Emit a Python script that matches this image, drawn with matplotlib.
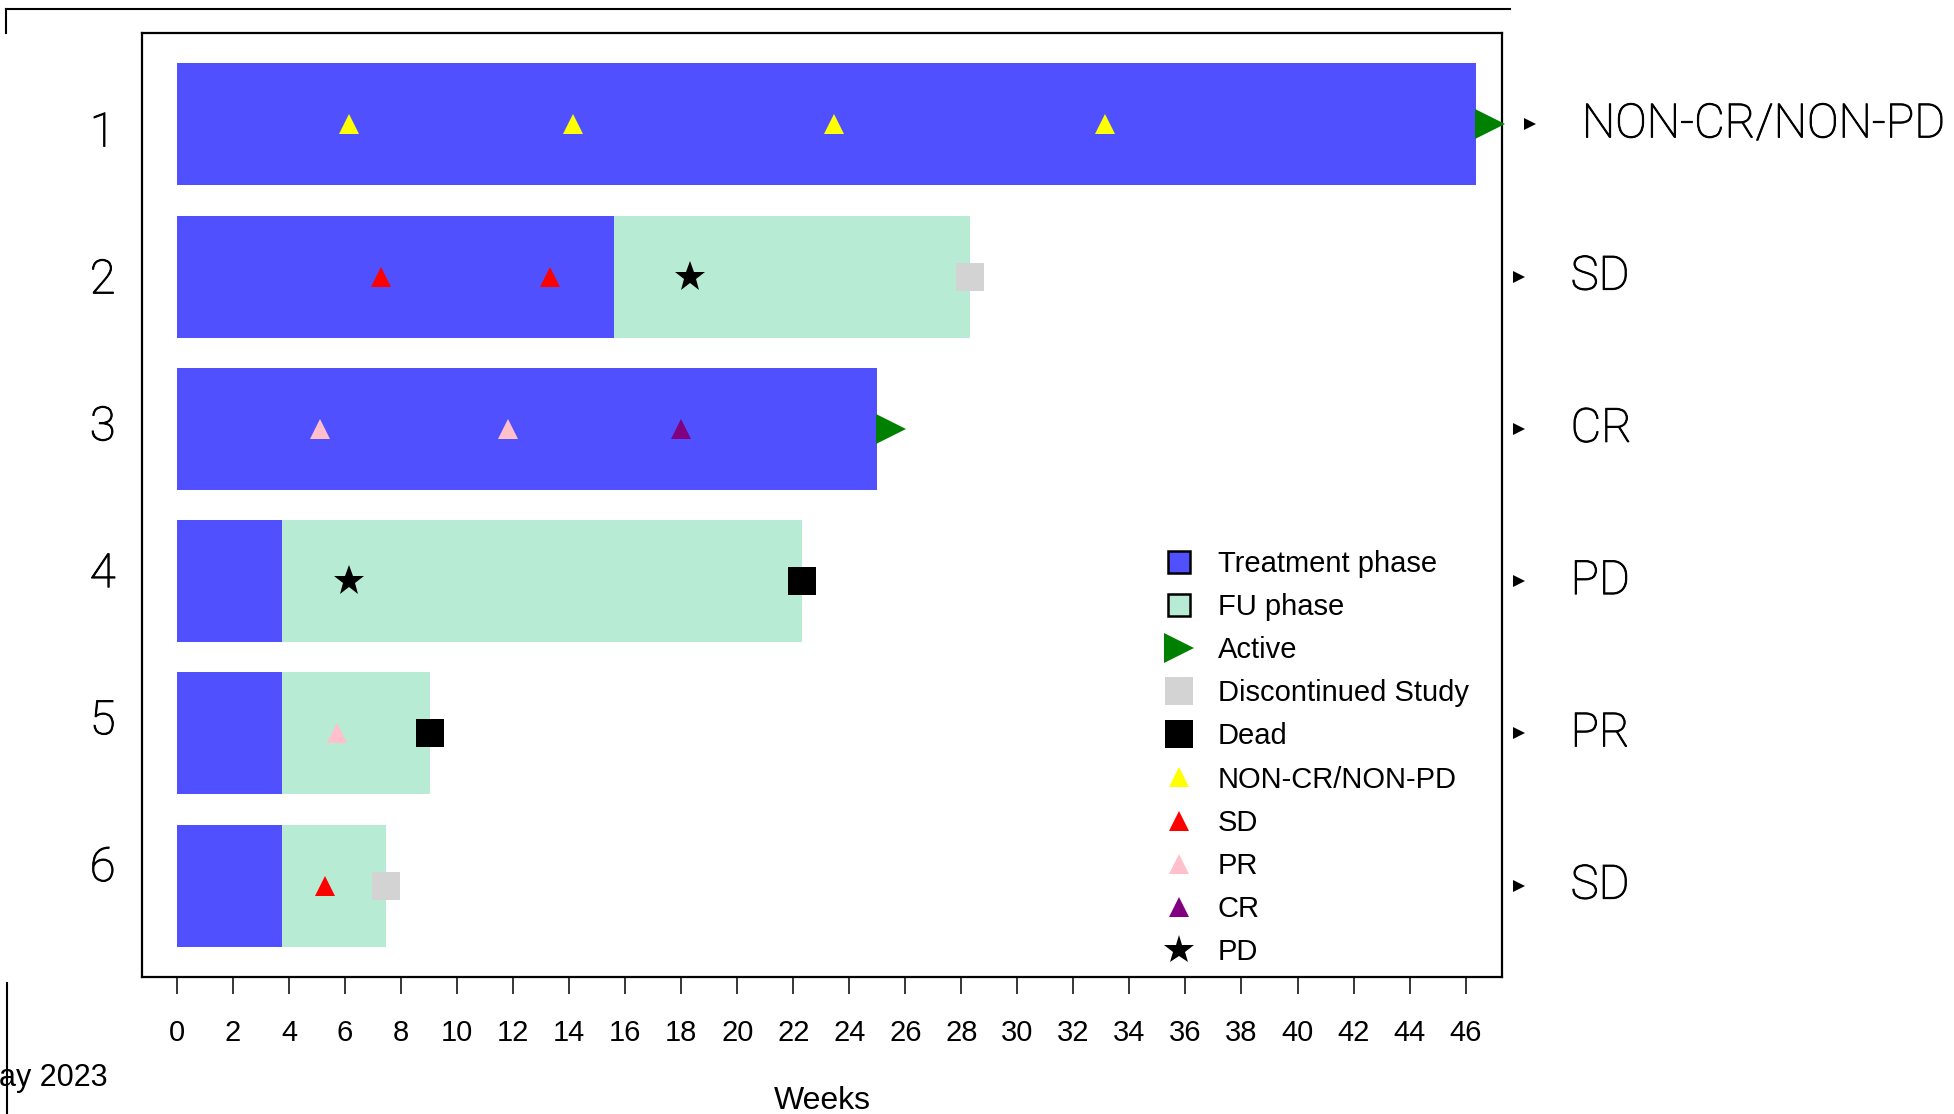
import matplotlib
matplotlib.use("Agg")
import matplotlib.pyplot as plt
import matplotlib.patheffects as pe
from matplotlib.lines import Line2D

# subject data (weeks)
subjects = [1, 2, 3, 4, 5, 6]
treat_end = [46.36, 15.6, 25.0, 3.75, 3.75, 3.75]
fu_end = [None, 28.3, None, 22.3, 9.04, 7.46]
status = ["Active", "Discontinued Study", "Active", "Dead", "Dead", "Discontinued Study"]
best_resp = ["NON-CR/NON-PD", "SD", "CR", "PD", "PR", "SD"]

# assessments: (subject, week, response)
assess_subj = [1, 1, 1, 1, 2, 2, 2, 3, 3, 3, 4, 5, 6]
assess_week = [6.14, 14.14, 23.46, 33.14, 7.29, 13.3, 18.3, 5.1, 11.8, 18.0, 6.14, 5.7, 5.29]
assess_resp = ["NON-CR/NON-PD", "NON-CR/NON-PD", "NON-CR/NON-PD", "NON-CR/NON-PD",
               "SD", "SD", "PD", "PR", "PR", "CR", "PD", "PR", "SD"]

xticks = list(range(0, 47, 2))

blue = "#5050FF"
fu_col = "#B8EBD4"
resp_style = {
    "NON-CR/NON-PD": dict(marker="^", color="yellow", ms=14),
    "SD": dict(marker="^", color="red", ms=14),
    "PR": dict(marker="^", color="pink", ms=14),
    "CR": dict(marker="^", color="purple", ms=14),
    "PD": dict(marker="*", color="black", ms=23),
}
end_style = {
    "Active": dict(marker=">", color="green", ms=21),
    "Discontinued Study": dict(marker="s", color="lightgray", ms=20),
    "Dead": dict(marker="s", color="black", ms=20),
}
# light font drawn a bit darker, like the original
dark = [pe.withStroke(linewidth=0.7, foreground="black")]

fig = plt.figure(figsize=(19.54, 11.14), dpi=100)
ax = fig.add_axes([142 / 1954, 1 - 977 / 1114, 1360 / 1954, 944 / 1114])

for i, s in enumerate(subjects):
    ax.barh(s, treat_end[i], left=0, height=0.8, color=blue, zorder=2)
    if fu_end[i] is not None:
        ax.barh(s, fu_end[i] - treat_end[i], left=treat_end[i], height=0.8, color=fu_col, zorder=2)
        end_x = fu_end[i]
    else:
        end_x = treat_end[i] + 0.5
    st = end_style[status[i]]
    ax.plot(end_x, s, linestyle="none", marker=st["marker"], color=st["color"],
            ms=st["ms"], mew=0, zorder=4, clip_on=False)
    # best response on the right
    ax.plot(48.3 if i == 0 else 47.9, s, linestyle="none", marker=">", color="black",
            ms=8, mew=0, clip_on=False)
    ax.text(50.15 if i == 0 else 49.75, s, best_resp[i], fontsize=34, family="Roboto",
            fontweight="light", color="black", va="center", ha="left", clip_on=False,
            path_effects=dark)

for s, w, r in zip(assess_subj, assess_week, assess_resp):
    st = resp_style[r]
    ax.plot(w, s, linestyle="none", marker=st["marker"], color=st["color"],
            ms=st["ms"], mew=0, zorder=3)

ax.set_xlim(-1.25, 47.3)
ax.set_ylim(6.6, 0.4)
ax.set_xticks(xticks)
# subject labels in the original sit on a slightly tighter grid than the bars
ax.set_yticks([1.03 + (s - 1) * 0.965 for s in subjects], [str(s) for s in subjects])
ax.tick_params(axis="x", length=12, width=1.1, pad=18, labelsize=21)
ax.tick_params(axis="y", length=0, pad=19, labelsize=34)
for lab in ax.get_xticklabels():
    lab.set_family("Liberation Sans")
for lab in ax.get_yticklabels():
    lab.set_family("Roboto")
    lab.set_fontweight("light")
    lab.set_path_effects(dark)
for sp in ax.spines.values():
    sp.set_linewidth(1.6)
ax.set_xlabel("Weeks", fontsize=23, family="Liberation Sans", labelpad=28)

handles = [
    Line2D([], [], linestyle="none", marker="s", ms=16, mfc=blue, mec="black", mew=1.8),
    Line2D([], [], linestyle="none", marker="s", ms=16, mfc=fu_col, mec="black", mew=1.8),
]
labels = ["Treatment phase", "FU phase"]
for k in ["Active", "Discontinued Study", "Dead"]:
    st = end_style[k]
    handles.append(Line2D([], [], linestyle="none", marker=st["marker"], color=st["color"], ms=st["ms"], mew=0))
    labels.append(k)
for k in ["NON-CR/NON-PD", "SD", "PR", "CR", "PD"]:
    st = resp_style[k]
    handles.append(Line2D([], [], linestyle="none", marker=st["marker"], color=st["color"],
                          ms=st["ms"] if k != "PD" else 22, mew=0))
    labels.append(k)
ax.legend(handles, labels, loc="upper left", bbox_to_anchor=(0.747, 0.4526), frameon=False,
          prop={"family": "Liberation Sans", "size": 21}, handlelength=1.45, handletextpad=0.6,
          labelspacing=0.52, borderpad=0, borderaxespad=0)

# outer frame remnants
fig.add_artist(Line2D([5.7 / 1954, 1510 / 1954], [1 - 8.7 / 1114] * 2, color="black", lw=1.5))
fig.add_artist(Line2D([5.7 / 1954] * 2, [1 - 8.7 / 1114, 1 - 33 / 1114], color="black", lw=1.5))
fig.add_artist(Line2D([6.5 / 1954] * 2, [1 - 983 / 1114, 0], color="black", lw=1.5))
fig.text(-1 / 1954, 1 - 1078 / 1114, "ay 2023", fontsize=22, family="Liberation Sans",
         va="center", ha="left")

fig.savefig("out.png", dpi=100)
